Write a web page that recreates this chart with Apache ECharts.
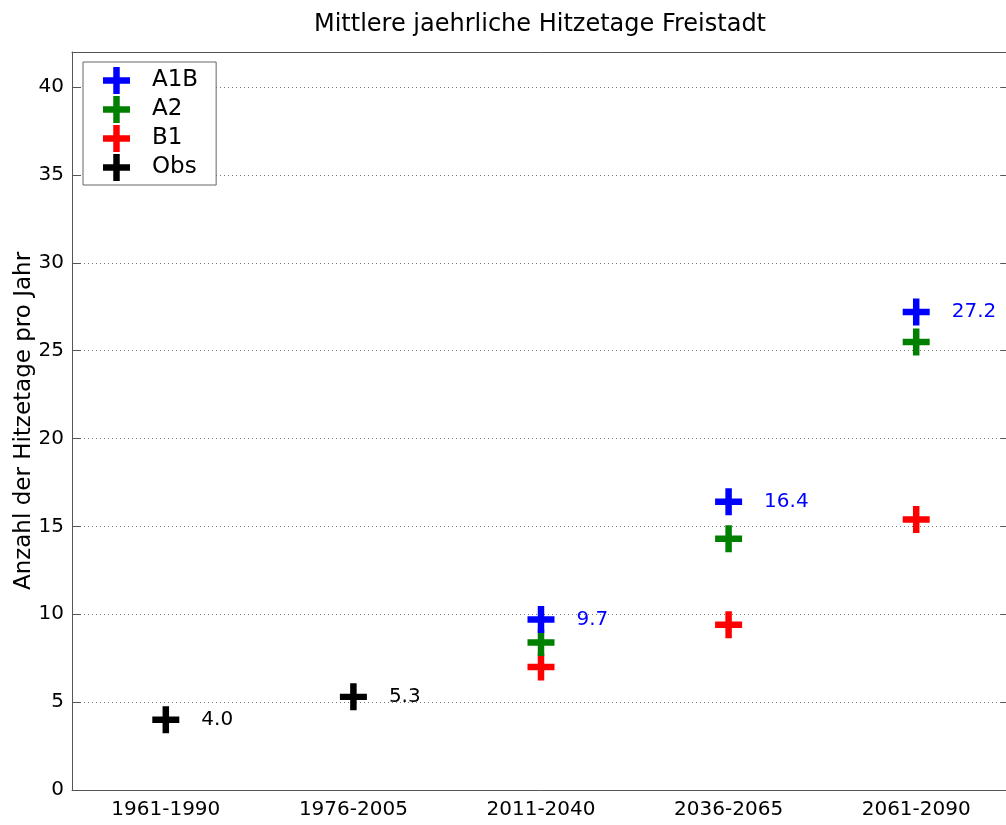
<!DOCTYPE html>
<html>
<head>
<meta charset="utf-8">
<script src="https://cdn.jsdelivr.net/npm/echarts@6/dist/echarts.min.js"></script>
<style>
  html, body { margin: 0; padding: 0; background: #fff; }
  #chart { width: 1006px; height: 825px; }
</style>
</head>
<body>
<div id="chart"></div>
<script>
// periods on the x axis
var periods = ["1961-1990", "1976-2005", "2011-2040", "2036-2065", "2061-2090"];
// mean yearly hot days per scenario ('-' = no value)
var a1b = ["-", "-", 9.7, 16.4, 27.2];
var a2 = ["-", "-", 8.4, 14.3, 25.5];
var b1 = ["-", "-", 7.0, 9.4, 15.4];
var obs = [4.0, 5.3, "-", "-", "-"];

var plus = "path://M9.5,0h6v9.5h9.5v6h-9.5v9.5h-6v-9.5h-9.5v-6h9.5z";
var font = "DejaVu Sans";

var myChart = echarts.init(document.getElementById("chart"));

function labelOf(color) {
  return {
    show: true,
    position: "right",
    distance: 22,
    color: color,
    fontSize: 20,
    fontFamily: font,
    formatter: function (p) {
      return Number(p.value).toFixed(1);
    }
  };
}

var option = {
  animation: false,
  backgroundColor: "#fff",
  textStyle: { fontFamily: font },
  title: {
    text: "Mittlere jaehrliche Hitzetage Freistadt",
    left: 535,
    top: 8,
    textAlign: "center",
    textStyle: { fontSize: 24, fontWeight: "normal", color: "#000", fontFamily: font }
  },
  legend: {
    orient: "vertical",
    left: 83,
    top: 62,
    padding: [5, 18, 4, 20],
    itemWidth: 27,
    itemHeight: 27,
    itemGap: 2,
    borderColor: "#666",
    borderWidth: 1,
    backgroundColor: "#fff",
    icon: plus,
    textStyle: { fontSize: 23, color: "#000", fontFamily: font, padding: [0, 0, 0, 17] },
    data: ["A1B", "A2", "B1", "Obs"]
  },
  grid: { left: 72, top: 52, width: 938, height: 738, outerBoundsMode: "none", containLabel: false },
  xAxis: [
    {
      type: "category",
      data: periods,
      boundaryGap: true,
      axisLine: { onZero: false, lineStyle: { color: "#555" } },
      axisTick: { inside: true, alignWithLabel: true, length: 9, lineStyle: { color: "#555" } },
      axisLabel: { color: "#000", fontSize: 20, margin: 10, fontFamily: font },
      splitLine: { show: false }
    },
    {
      type: "category",
      data: periods,
      position: "top",
      boundaryGap: true,
      axisLine: { onZero: false, lineStyle: { color: "#555" } },
      axisTick: { inside: true, alignWithLabel: true, length: 9, lineStyle: { color: "#555" } },
      axisLabel: { show: false }
    }
  ],
  yAxis: [
    {
      type: "value",
      min: 0,
      max: 42,
      interval: 5,
      name: "Anzahl der Hitzetage pro Jahr",
      nameLocation: "middle",
      nameGap: 36,
      nameMoveOverlap: false,
      nameTextStyle: { fontSize: 23, color: "#000", fontFamily: font },
      axisLine: { show: true, onZero: false, lineStyle: { color: "#555" } },
      axisTick: { show: true, inside: true, length: 9, lineStyle: { color: "#555" } },
      axisLabel: { color: "#000", fontSize: 20, margin: 8, showMaxLabel: false, fontFamily: font },
      splitLine: { show: true, lineStyle: { color: "#777", type: [1, 3], width: 1 } }
    },
    {
      type: "value",
      position: "right",
      min: 0,
      max: 42,
      interval: 5,
      axisLine: { show: true, onZero: false, lineStyle: { color: "#555" } },
      axisTick: { show: true, inside: true, length: 9, lineStyle: { color: "#555" } },
      axisLabel: { show: false },
      splitLine: { show: false }
    }
  ],
  series: [
    {
      name: "A1B", type: "scatter", symbol: plus, symbolSize: 27,
      itemStyle: { color: "#0000ff", opacity: 1 }, label: labelOf("#0000ff"), data: a1b, z: 5
    },
    {
      name: "A2", type: "scatter", symbol: plus, symbolSize: 27,
      itemStyle: { color: "#008000", opacity: 1 }, data: a2, z: 4
    },
    {
      name: "B1", type: "scatter", symbol: plus, symbolSize: 27,
      itemStyle: { color: "#ff0000", opacity: 1 }, data: b1, z: 3
    },
    {
      name: "Obs", type: "scatter", symbol: plus, symbolSize: 27,
      itemStyle: { color: "#000000", opacity: 1 }, label: labelOf("#000000"), data: obs, z: 5
    }
  ]
};

myChart.setOption(option);
</script>
</body>
</html>
